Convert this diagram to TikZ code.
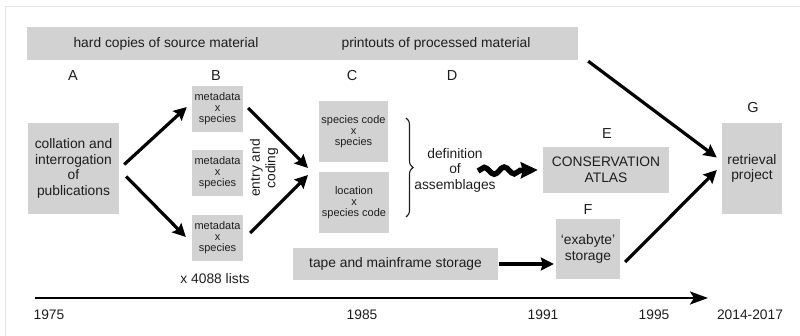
\documentclass[tikz,border=0pt]{standalone}
\usepackage{fontspec}
\setmainfont{Liberation Sans}
\usetikzlibrary{arrows.meta,calc,decorations.pathreplacing,decorations.pathmorphing}
\definecolor{boxgray}{HTML}{D2D2D2}
\definecolor{txt}{HTML}{1E1E1E}
\definecolor{framegray}{HTML}{E6E6E6}
\begin{document}
\begin{tikzpicture}[x=1pt,y=-1pt,
  box/.style={fill=boxgray, draw=none, inner sep=0pt, text=txt, align=center},
  big/.style={font=\fontsize{13.8}{15.5}\selectfont},
  small/.style={font=\fontsize{11}{11}\selectfont},
  lbl/.style={text=txt, inner sep=0pt, align=center},
  letter/.style={text=txt, inner sep=0pt, font=\fontsize{14.5}{16}\selectfont},
  arr/.style={line width=3.2pt, -{Stealth[length=13pt,width=13pt,inset=2pt]}},
]
\useasboundingbox (0,0) rectangle (800,336);
\draw[framegray, line width=1pt] (5,336) -- (5,7) -- (800,7);

% top band
\node[box, minimum width=551, minimum height=33] (band) at (302.5,43.5) {};
\node[lbl, big] (hard) at (166,44) {hard copies of source material};
\node[lbl, big] (print) at (436,44) {printouts of processed material};

% letters
\node[letter] (LA) at (73,76) {A};
\node[letter] (LB) at (216,76) {B};
\node[letter] (LC) at (352,76) {C};
\node[letter] (LD) at (452,76) {D};
\node[letter] (LG) at (753,108) {G};
\node[letter] (LE) at (607,134) {E};
\node[letter] (LF) at (588,210) {F};

% boxes
\node[box, big, minimum width=91, minimum height=91] (A) at (73.5,168.5) {collation and\\interrogation\\of\\publications};
\node[box, small, minimum width=51, minimum height=46] (B1) at (217.5,109) {metadata\\x\\species};
\node[box, small, minimum width=51, minimum height=46] (B2) at (217.5,173) {metadata\\x\\species};
\node[box, small, minimum width=51, minimum height=46] (B3) at (217.5,238) {metadata\\x\\species};
\node[lbl, big] (lists) at (215,279) {x 4088 lists};
\node[lbl, big, rotate=90] (entry) at (264,168) {entry and\\coding};

\node[box, small, minimum width=69, minimum height=61] (C1) at (353.5,131.5) {species code\\x\\species};
\node[box, small, minimum width=70, minimum height=61] (C2) at (354,202.5) {location\\x\\species code};
\coordinate (Cm) at (308,171);

\coordinate (br1) at (406,118);
\coordinate (br2) at (406,217);
\draw[decorate, decoration={brace, amplitude=7pt}, line width=1.1pt, txt] (br1) -- (br2);

\node[lbl, big] (def) at (455,170) {definition\\of\\assemblages};

\node[box, big, minimum width=126, minimum height=46] (E) at (606,170) {CONSERVATION\\ATLAS};
\node[box, big, minimum width=64, minimum height=60] (F) at (588,249) {‘exabyte’\\storage};
\node[box, big, minimum width=205, minimum height=32] (tape) at (395.5,264) {tape and mainframe storage};
\node[box, big, minimum width=60, minimum height=91] (G) at (752,168.5) {retrieval\\project};

% arrows
\draw[arr] ($(A.east)+(5,-4)$) -- ($(B1.west)+(-5,-2)$);
\draw[arr] ($(A.east)+(7,8)$) -- ($(B3.west)+(-6,-1)$);
\draw[arr] ($(B1.east)+(5,-1)$) -- ($(Cm)+(0,-3)$);
\draw[arr] ($(B3.east)+(7,-5)$) -- ($(Cm)+(0,4)$);
\draw[arr] ($(band.south east)+(10,1)$) -- ($(G.west)+(-5,-11)$);
\draw[arr] ($(F.east)+(5,13)$) -- ($(G.west)+(-5,1.5)$);
\draw[arr, line width=4pt] ($(tape.east)+(1,0)$) -- ($(F.west)+(-2,15)$);

% snake arrow
\coordinate (s0) at (478,171);
\draw[line width=5.5pt, decorate, decoration={snake, amplitude=3.5pt, segment length=20pt, post length=14pt}, -{Stealth[length=17pt,width=16pt,inset=2pt]}] (s0) -- ($(E.west)+(-5,0)$);

% timeline
\coordinate (t0) at (35,298);
\coordinate (t1) at (708,298);
\draw[line width=2.4pt, -{Stealth[length=18pt,width=13pt,inset=4pt]}] (t0) -- (t1);
\node[lbl, big] (y1975) at (49,315) {1975};
\node[lbl, big] (y1985) at (362,315) {1985};
\node[lbl, big] (y1991) at (543,315) {1991};
\node[lbl, big] (y1995) at (654,315) {1995};
\node[lbl, big] (y2014) at (750,315) {2014-2017};
\end{tikzpicture}
\end{document}
